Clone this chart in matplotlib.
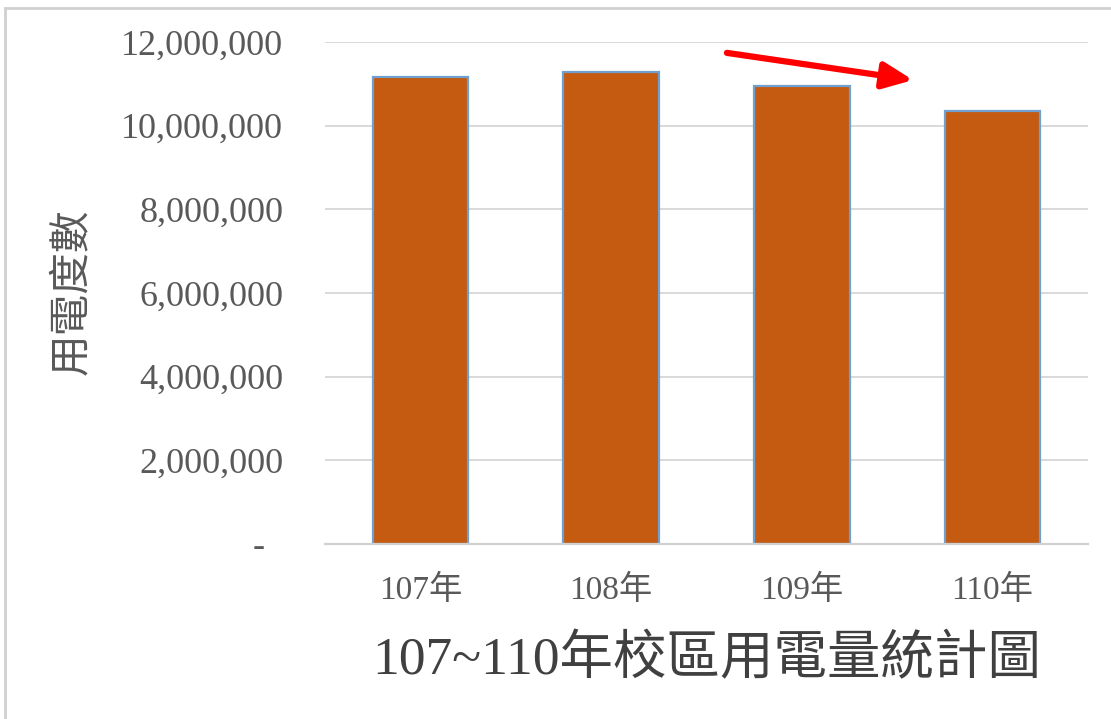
import matplotlib
matplotlib.use("Agg")
import matplotlib.pyplot as plt
from matplotlib.lines import Line2D

categories = ["107年", "108年", "109年", "110年"]
values = [11160000, 11280000, 10950000, 10350000]
yticks = [0, 2000000, 4000000, 6000000, 8000000, 10000000, 12000000]
ytick_labels = ["-  ", "2,000,000", "4,000,000", "6,000,000", "8,000,000", "10,000,000", "12,000,000"]
title = "107~110年校區用電量統計圖"
ylabel = "用電度數"

fam = ["Liberation Serif", "Noto Sans CJK TC", "DejaVu Sans"]
cjk = ["Noto Sans CJK TC", "DejaVu Sans"]
plt.rcParams["font.family"] = fam

fig = plt.figure(figsize=(11.11, 7.19), dpi=100)
ax = fig.add_axes([325/1111, 1-544/719, (1088-325)/1111, (544-42)/719])

x = range(len(categories))
ax.bar(x, values, width=0.5, color="#C55A11", edgecolor="#6FA0D0", linewidth=1.6, zorder=3)

ax.set_xlim(-0.5, len(categories)-0.5)
ax.set_ylim(0, 12000000)
ax.set_yticks(yticks)
ax.set_yticklabels(ytick_labels, fontsize=26, color="#595959")
ax.set_xticks(list(x))
ax.set_xticklabels(categories, fontsize=24, color="#595959")
ax.tick_params(axis="y", length=0, pad=30)
ax.tick_params(axis="x", length=0, pad=22)
ax.grid(axis="y", color="#d9d9d9", linewidth=1.4, zorder=0)
for s in ["top", "right", "left"]:
    ax.spines[s].set_visible(False)
ax.spines["bottom"].set_color("#d0d0d0")
ax.spines["bottom"].set_linewidth(1.6)
ax.spines["bottom"].set_zorder(4)

fig.text(72/1111, 1-292/719, ylabel, rotation=90, fontsize=30, color="#595959",
         ha="center", va="center", family=cjk, fontweight="light")
fig.text(707/1111, 1-660/719, title, fontsize=38.5, color="#404040",
         ha="center", va="center")

ax.annotate("", xy=(2.583, 11090000), xytext=(1.607, 11740000),
            arrowprops=dict(arrowstyle="-|>,head_length=1.8,head_width=0.8",
                            color="#FF0000", lw=4.5, shrinkA=0, shrinkB=0),
            annotation_clip=False, zorder=5)

fig.add_artist(Line2D([4.5/1111, 4.5/1111], [0, 1-8/719], transform=fig.transFigure,
                      color="#d0d0d0", lw=2))
fig.add_artist(Line2D([4.5/1111, 1], [1-8/719, 1-8/719], transform=fig.transFigure,
                      color="#d0d0d0", lw=2))

fig.savefig("out.png", dpi=100)
